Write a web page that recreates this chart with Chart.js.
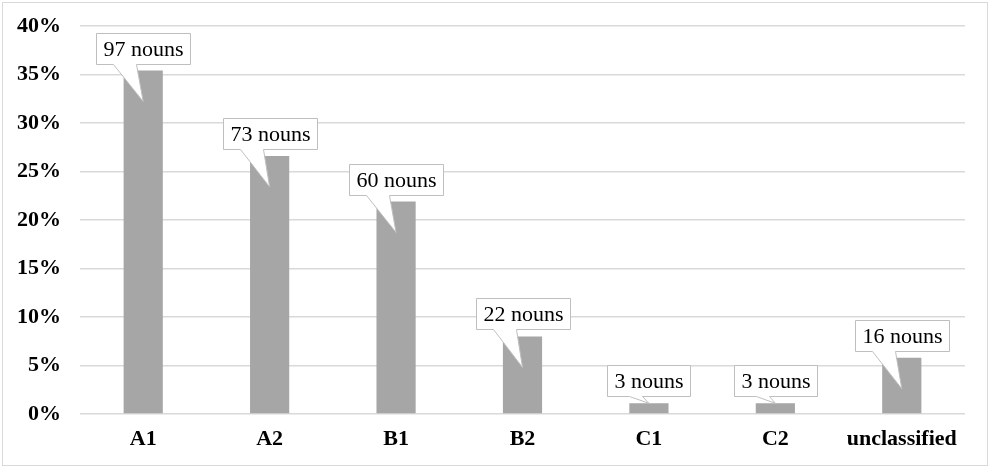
<!DOCTYPE html>
<html>
<head>
<meta charset="utf-8">
<script src="https://cdn.jsdelivr.net/npm/chart.js@4/dist/chart.umd.min.js"></script>
<style>
  html, body { margin: 0; padding: 0; background: #fff; }
  #wrap { position: relative; width: 992px; height: 471px; }
  #frame { position: absolute; left: 2px; top: 2px; width: 984px; height: 462px; border: 1px solid #d9d9d9; pointer-events: none; }
  canvas { position: absolute; left: 0; top: 0; }
</style>
</head>
<body>
<div id="wrap">
  <canvas id="c" width="992" height="471"></canvas>
  <div id="frame"></div>
</div>
<script>
const categories = ['A1', 'A2', 'B1', 'B2', 'C1', 'C2', 'unclassified'];
const percentValues = [35.4, 26.6, 21.9, 8.0, 1.1, 1.1, 5.8];
const nounCounts = [97, 73, 60, 22, 3, 3, 16];
const yTicks = [0, 5, 10, 15, 20, 25, 30, 35, 40];

const calloutPlugin = {
  id: 'callouts',
  afterDatasetsDraw(chart) {
    const ctx = chart.ctx;
    const meta = chart.getDatasetMeta(0);
    const yScale = chart.scales.y;
    const base = yScale.getPixelForValue(0);
    ctx.save();
    ctx.font = '22px "Liberation Serif", "Times New Roman", serif';
    meta.data.forEach((bar, i) => {
      const label = nounCounts[i] + ' nouns';
      const tw = ctx.measureText(label).width;
      const bw = Math.round(tw + 14);
      const bh = 31;
      const cx = bar.x;
      const top = bar.y;
      const h = base - top;
      const left = Math.round(cx - bw / 2) + 0.5;
      const bottom = Math.round(top - 7) + 0.5;
      const boxTop = bottom - bh;
      let tipY, b1, b2;
      if (h > 30) {
        tipY = top + 31; b1 = left + 17; b2 = left + 40;
      } else {
        tipY = top; b1 = left + 22; b2 = left + 35;
      }
      ctx.beginPath();
      ctx.moveTo(left, boxTop);
      ctx.lineTo(left + bw, boxTop);
      ctx.lineTo(left + bw, bottom);
      ctx.lineTo(b2, bottom);
      ctx.lineTo(cx, tipY);
      ctx.lineTo(b1, bottom);
      ctx.lineTo(left, bottom);
      ctx.closePath();
      ctx.fillStyle = '#ffffff';
      ctx.fill();
      ctx.strokeStyle = '#bfbfbf';
      ctx.lineWidth = 1;
      ctx.stroke();
      ctx.fillStyle = '#000000';
      ctx.textAlign = 'center';
      ctx.textBaseline = 'middle';
      ctx.fillText(label, left + bw / 2, boxTop + bh / 2 + 1);
    });
    ctx.restore();
  }
};

new Chart(document.getElementById('c'), {
  type: 'bar',
  data: {
    labels: categories,
    datasets: [{
      data: percentValues,
      backgroundColor: '#a6a6a6',
      borderWidth: 0,
      categoryPercentage: 1.0,
      barPercentage: 0.31
    }]
  },
  options: {
    responsive: false,
    animation: false,
    devicePixelRatio: 1,
    layout: { padding: { left: 0, right: 27, top: 26, bottom: 0 } },
    plugins: { legend: { display: false }, tooltip: { enabled: false } },
    scales: {
      x: {
        grid: { display: false, drawTicks: false },
        border: { display: false },
        ticks: {
          color: '#000',
          padding: 12,
          font: { family: '"Liberation Serif", "Times New Roman", serif', size: 22, weight: 'bold' }
        },
        afterFit(s) { s.height = 57; s.paddingLeft = 0; s.paddingRight = 0; }
      },
      y: {
        min: 0,
        max: 40,
        afterBuildTicks(s) { s.ticks = yTicks.map(v => ({ value: v })); },
        grid: { color: '#d9d9d9', drawTicks: false, lineWidth: 1.5 },
        border: { display: false },
        ticks: {
          color: '#000',
          padding: 19,
          font: { family: '"Liberation Serif", "Times New Roman", serif', size: 22, weight: 'bold' },
          callback: v => v + '%'
        },
        afterFit(s) { s.width = 80; s.paddingTop = 0; s.paddingBottom = 0; }
      }
    }
  },
  plugins: [calloutPlugin]
});
</script>
</body>
</html>
